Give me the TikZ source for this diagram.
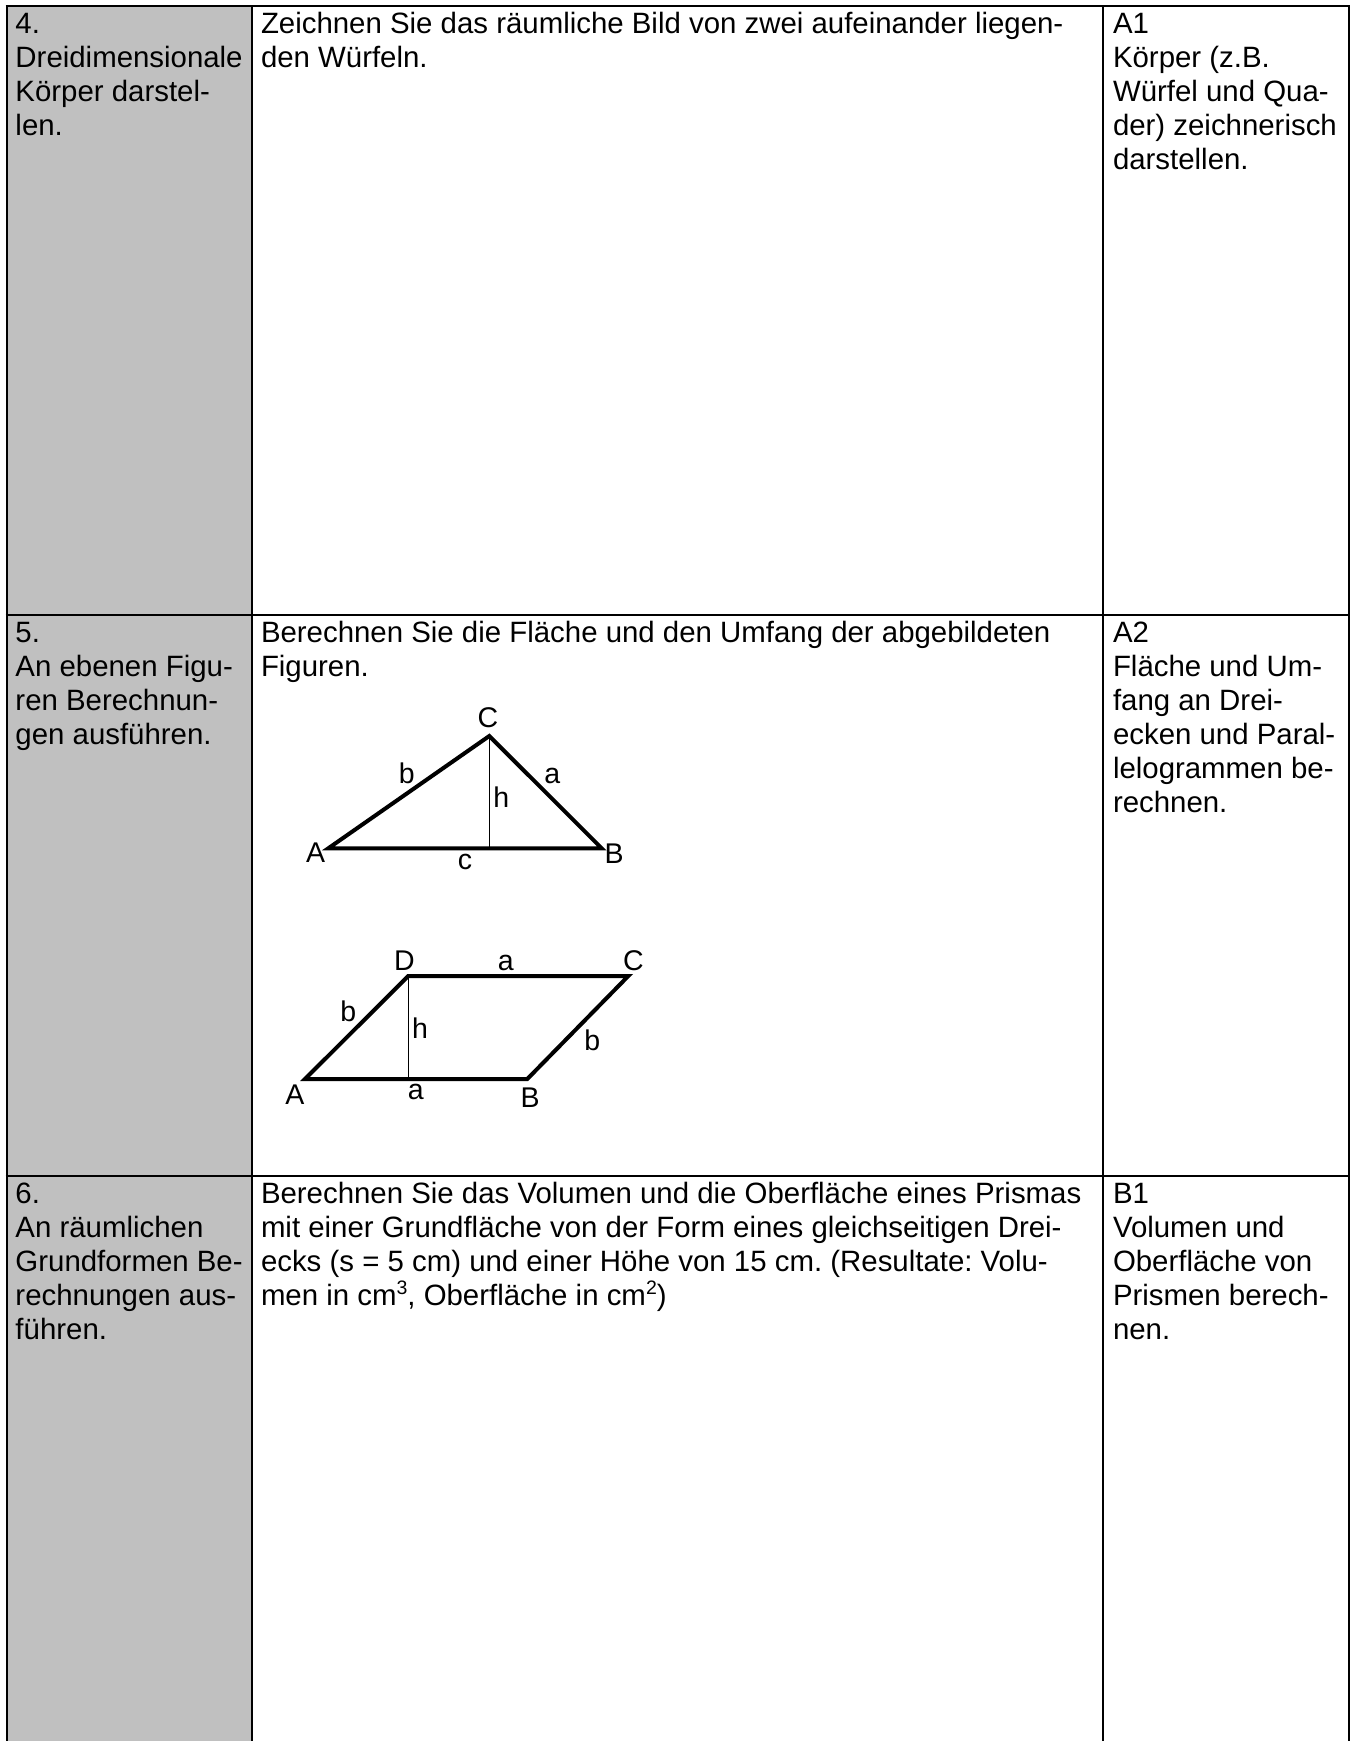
\documentclass[tikz,border=0pt]{standalone}
\usepackage{fontspec}
\setmainfont{Liberation Sans}
\frenchspacing
\definecolor{cellgray}{HTML}{C0C0C0}
\newcommand{\firstline}{\rule{0pt}{22pt}}
\newcommand{\upper}[1]{\raisebox{11pt}{\fontsize{19.5}{20}\selectfont #1}}
\tikzset{
  cell/.style={anchor=north west,inner sep=0pt,outer sep=0pt,align=left,font=\fontsize{29.4}{34}\selectfont},
  rule/.style={line width=2pt,black},
  thickedge/.style={line width=4pt,black,line cap=round,line join=miter},
  thinedge/.style={line width=1.3pt,black},
  lab/.style={inner sep=0pt,outer sep=0pt,font=\fontsize{28.5}{30}\selectfont},
}
\begin{document}
\begin{tikzpicture}[x=1pt,y=-1pt]
\useasboundingbox (0,0) rectangle (1355,1741);
\fill[white] (0,0) rectangle (1355,1741);
\fill[cellgray] (6,6) rectangle (252,1741);
\draw[rule] (5.5,6) -- (1350,6);
\draw[rule] (5.5,615) -- (1350,615);
\draw[rule] (5.5,1175.7) -- (1350,1175.7);
\draw[rule] (6.5,5) -- (6.5,1741);
\draw[rule] (252,5) -- (252,1741);
\draw[rule] (1102.5,5) -- (1102.5,1741);
\draw[rule] (1349,5) -- (1349,1741);
% row 4
\node[cell] (c41) at (15.5,11.3) {\firstline 4.\\Dreidimensionale\\Körper darstel-\\len.};
\node[cell] (c42) at (261,11.3) {\firstline Zeichnen Sie das räumliche Bild von zwei aufeinander liegen-\\den Würfeln.};
\node[cell] (c43) at (1113,11.3) {\firstline A1\\Körper (z.B.\\Würfel und Qua-\\der) zeichnerisch\\darstellen.};
% row 5
\node[cell] (c51) at (15.5,620.7) {\firstline 5.\\An ebenen Figu-\\ren Berechnun-\\gen ausführen.};
\node[cell] (c52) at (261,620.7) {\firstline Berechnen Sie die Fläche und den Umfang der abgebildeten\\Figuren.};
\node[cell] (c53) at (1113,620.7) {\firstline A2\\Fläche und Um-\\fang an Drei-\\ecken und Paral-\\lelogrammen be-\\rechnen.};
% row 6
\node[cell] (c61) at (15.5,1181.3) {\firstline 6.\\An räumlichen\\Grundformen Be-\\rechnungen aus-\\führen.};
\node[cell] (c62) at (261,1181.3) {\firstline Berechnen Sie das Volumen und die Oberfläche eines Prismas\\mit einer Grundfläche von der Form eines gleichseitigen Drei-\\ecks (s = 5 cm) und einer Höhe von 15 cm. (Resultate: Volu-\\men in cm\upper{3}, Oberfläche in cm\upper{2})};
\node[cell] (c63) at (1113,1181.3) {\firstline B1\\Volumen und\\Oberfläche von\\Prismen berech-\\nen.};
% triangle
\coordinate (tA) at (328.3,848.3);
\coordinate (tB) at (601.7,848.3);
\coordinate (tC) at (489.3,736);
\coordinate (tF) at (489.3,848.3);
\draw[thinedge] (tC) -- (tF);
\draw[thickedge] (tA) -- (tB) -- (tC) -- cycle;
\node[lab] (ltC) at (488,717.7) {C};
\node[lab] (ltb) at (406.7,773) {b};
\node[lab] (lta) at (552.3,775.7) {a};
\node[lab] (lth) at (501.3,796.7) {h};
\node[lab] (ltA) at (315.7,852.3) {A};
\node[lab] (ltc) at (465,861.7) {c};
\node[lab] (ltB) at (614,853.3) {B};
% parallelogram
\coordinate (pA) at (305,1079);
\coordinate (pB) at (527.3,1079);
\coordinate (pC) at (628.3,976);
\coordinate (pD) at (408.3,976);
\coordinate (pF) at (408.3,1079);
\draw[thinedge] (pD) -- (pF);
\draw[thickedge] (pA) -- (pB) -- (pC) -- (pD) -- cycle;
\node[lab] (lpD) at (404.3,960.7) {D};
\node[lab] (lpa) at (505.7,962.7) {a};
\node[lab] (lpC) at (633.3,960.7) {C};
\node[lab] (lpb) at (348.3,1011.7) {b};
\node[lab] (lph) at (420,1028) {h};
\node[lab] (lpb2) at (592.3,1040) {b};
\node[lab] (lpA) at (295,1095) {A};
\node[lab] (lpa2) at (415.7,1092) {a};
\node[lab] (lpB) at (530,1097.7) {B};
\end{tikzpicture}
\end{document}
